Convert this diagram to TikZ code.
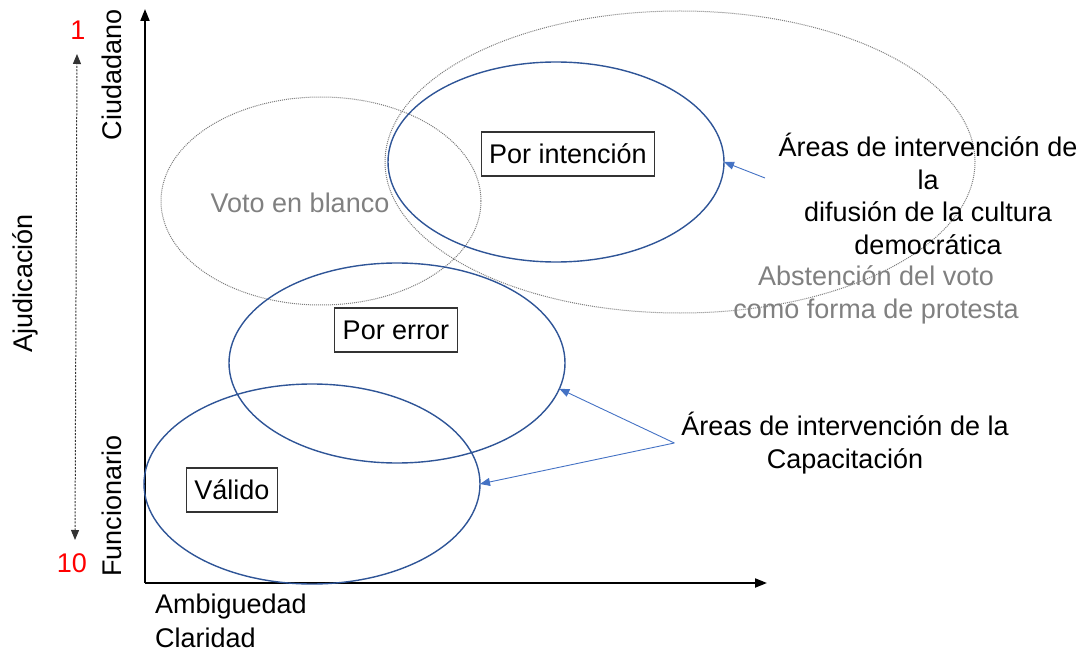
\documentclass[tikz,border=0pt]{standalone}
\usepackage{fontspec}
\setmainfont{Liberation Sans}
\usetikzlibrary{shapes.geometric,arrows.meta}
\definecolor{ovalblue}{RGB}{47,85,151}
\definecolor{arrowblue}{RGB}{68,114,196}
\definecolor{textgray}{RGB}{128,128,128}
\definecolor{dotgray}{RGB}{125,125,125}
\tikzset{
  oval/.style={ellipse,draw=ovalblue,line width=0.7pt,inner sep=0pt,outer sep=0pt,minimum width=168pt,minimum height=100pt},
  dotoval/.style={ellipse,draw=dotgray,line width=0.5pt,dash pattern=on 0.5pt off 0.5pt,inner sep=0pt,outer sep=0pt},
  tipo/.style={draw=black!80,line width=0.6pt,inner xsep=4pt,inner ysep=0pt,minimum height=22pt},
  guia/.style={arrowblue,line width=0.45pt,-{Triangle[length=5pt,width=4pt]}},
  eje/.style={line width=1pt,-{Triangle[length=6pt,width=4.5pt]}}
}
\begin{document}
\begin{tikzpicture}[x=0.5pt,y=-0.5pt,font=\fontsize{13.5}{16.3}\selectfont]
    \useasboundingbox (0,0) rectangle (1086,652);
    \coordinate (o) at (145,583);
    \coordinate (ytop) at (145,9);
    \coordinate (xend) at (767,583);
    \draw[eje] (o) -- (ytop);
    \draw[eje] (o) -- (xend);
    \coordinate (escalaarriba) at (77,54);
    \coordinate (escalaabajo) at (75,540);
    \draw[black!80,line width=0.5pt,dash pattern=on 1pt off 0.7pt,{Triangle[length=5pt,width=4pt]}-{Triangle[length=5pt,width=4pt]}] (escalaabajo) -- (escalaarriba);
    \node[red] (uno) at (78,30) {1};
    \node[red] (diez) at (72,563) {10};
    \node[rotate=90] (ciudadano) at (112,75) {Ciudadano};
    \node[rotate=90] (funcionario) at (112,506) {Funcionario};
    \node[rotate=90] (ajudicacion) at (25,283) {Ajudicación};
    \node[anchor=west] (ambiguedad) at (148,607) {Ambiguedad};
    \node[anchor=west] (claridad) at (148,638) {Claridad};
    \node[dotoval,minimum width=295pt,minimum height=151pt] (abstencion) at (680,162) {};
    \node[dotoval,minimum width=160pt,minimum height=104pt] (blanco) at (321,201) {};
    \node[oval] (intencion) at (556,162) {};
    \node[oval] (error) at (397,363) {};
    \node[oval] (valido) at (312,484) {};
    \node[tipo] (porintencion) at (568,154) {Por intención};
    \node[tipo] (porerror) at (396,330) {Por error};
    \node[tipo] (tvalido) at (232,490) {Válido};
    \node[textgray] (votoblanco) at (300,203) {Voto en blanco};
    \node[align=center] (difusion) at (928,194) {Áreas de intervención de\\la\\difusión de la cultura\\democrática};
    \node[textgray,align=center,font=\fontsize{13.5}{16.5}\selectfont] (protesta) at (876,295) {Abstención del voto\\como forma de protesta};
    \node[align=center] (capacitacion) at (845,443) {Áreas de intervención de la\\Capacitación};
    \coordinate (difusionpunta) at (765,178);
    \draw[guia] (difusionpunta) -- (intencion.east);
    \draw[guia] (capacitacion.west) -- (error.-9);
    \draw[guia] (capacitacion.west) -- (valido.east);
\end{tikzpicture}
\end{document}
